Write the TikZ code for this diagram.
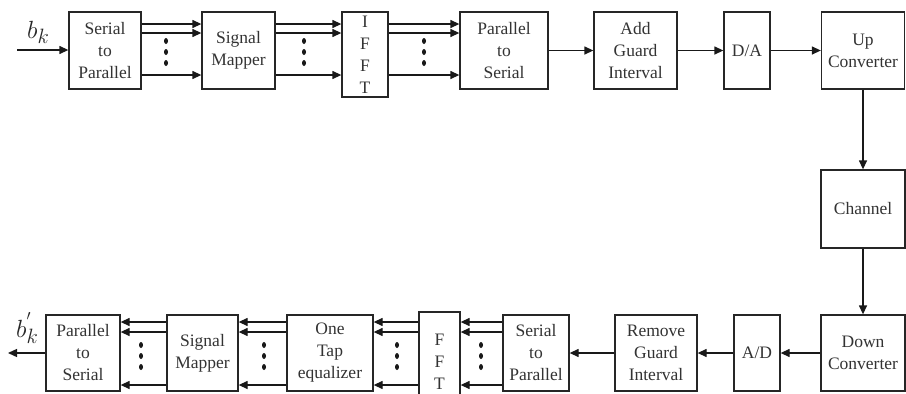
\documentclass[tikz,border=0pt]{standalone}
\usepackage{fontspec}
\setmainfont{Liberation Serif}
\usetikzlibrary{arrows.meta}
\begin{document}
\begin{tikzpicture}[x=1pt,y=-1pt,
  blk/.style={draw=black!85, line width=1.3pt, fill=white, inner sep=0pt, align=center,
    text=black!80, font=\fontsize{17.5}{22}\selectfont},
  arr/.style={draw=black!90, line width=1.3pt, -{Triangle[length=9pt,width=8pt]}},
  vdot/.style={fill=black!90}]
\useasboundingbox (0,0) rectangle (906,394);
\fill[white] (0,0) rectangle (906,394);
% top row
\node[blk, minimum width=72pt, minimum height=77pt] (sp1) at (105,50.5) {Serial\\to\\Parallel};
\node[blk, minimum width=73pt, minimum height=77pt] (sm1) at (238.5,50.5) {Signal\\Mapper};
\node[blk, minimum width=46pt, minimum height=85pt] (ifft) at (365,54.5) {I\\F\\F\\T};
\node[blk, minimum width=88pt, minimum height=77pt] (ps1) at (504,50.5) {Parallel\\to\\Serial};
\node[blk, minimum width=83pt, minimum height=77pt] (agi) at (635.5,50.5) {Add\\Guard\\Interval};
\node[blk, minimum width=46pt, minimum height=77pt] (da) at (747,50.5) {D/A};
\node[blk, minimum width=83pt, minimum height=77pt] (up) at (863,50.5) {Up\\Converter};
% channel
\node[blk, minimum width=84pt, minimum height=78pt] (ch) at (863,209) {Channel};
% bottom row
\node[blk, minimum width=84pt, minimum height=76pt] (down) at (863,353) {Down\\Converter};
\node[blk, minimum width=46pt, minimum height=76pt] (ad) at (757,353) {A/D};
\node[blk, minimum width=82pt, minimum height=76pt] (rgi) at (656,353) {Remove\\Guard\\Interval};
\node[blk, minimum width=66pt, minimum height=76pt] (sp2) at (536,353) {Serial\\to\\Parallel};
\node[blk, minimum width=41pt, minimum height=88pt, text depth=0pt] (fft) at (439.5,356) {\\F\\F\\T};
\node[blk, minimum width=86pt, minimum height=76pt] (ote) at (330,353) {One\\Tap\\equalizer};
\node[blk, minimum width=71pt, minimum height=76pt] (sm2) at (202.5,353) {Signal\\Mapper};
\node[blk, minimum width=74pt, minimum height=76pt] (ps2) at (83,353) {Parallel\\to\\Serial};
% labels
\node[anchor=base west, inner sep=0pt, text=black!85] (bk) at (27,38) {\fontsize{28}{30}\selectfont$b_k$};
\node[anchor=base west, inner sep=0pt, text=black!85] (bko) at (16,337) {\fontsize{28}{30}\selectfont$b_k^{'}$};
% coordinates
\coordinate (tin) at (17,50);
\coordinate (bout) at (8,353);
\coordinate (ta) at (0,24);
\coordinate (tb) at (0,33);
\coordinate (tc) at (0,75);
\coordinate (ba) at (0,322);
\coordinate (bb) at (0,332);
\coordinate (bc) at (0,385);
% top connectors
\draw[arr] (tin) -- (sp1.west |- tin);
\foreach \s/\t in {sp1/sm1, sm1/ifft, ifft/ps1} {
  \foreach \y in {ta,tb,tc} {
    \draw[arr] (\s.east |- \y) -- (\t.west |- \y);
  }
}
\draw[arr] (ps1) -- (agi);
\draw[arr] (agi) -- (da);
\draw[arr] (da) -- (up);
\draw[arr] (up) -- (ch);
\draw[arr] (ch) -- (down);
% bottom connectors
\draw[arr] (down) -- (ad);
\draw[arr] (ad) -- (rgi);
\draw[arr] (rgi.west) -- (sp2.east |- rgi.west);
\foreach \s/\t in {sp2/fft, fft/ote, ote/sm2, sm2/ps2} {
  \foreach \y in {ba,bb,bc} {
    \draw[arr] (\s.west |- \y) -- (\t.east |- \y);
  }
}
\draw[arr] (ps2.west |- bout) -- (bout);
% dots
\foreach \x in {166,304,424} {
  \foreach \y in {41,52,63} { \fill[vdot] (\x,\y) ellipse (2pt and 3pt); }
}
\foreach \x in {141,264,397,481} {
  \foreach \y in {345,356,367} { \fill[vdot] (\x,\y) ellipse (2pt and 3pt); }
}
\end{tikzpicture}
\end{document}
